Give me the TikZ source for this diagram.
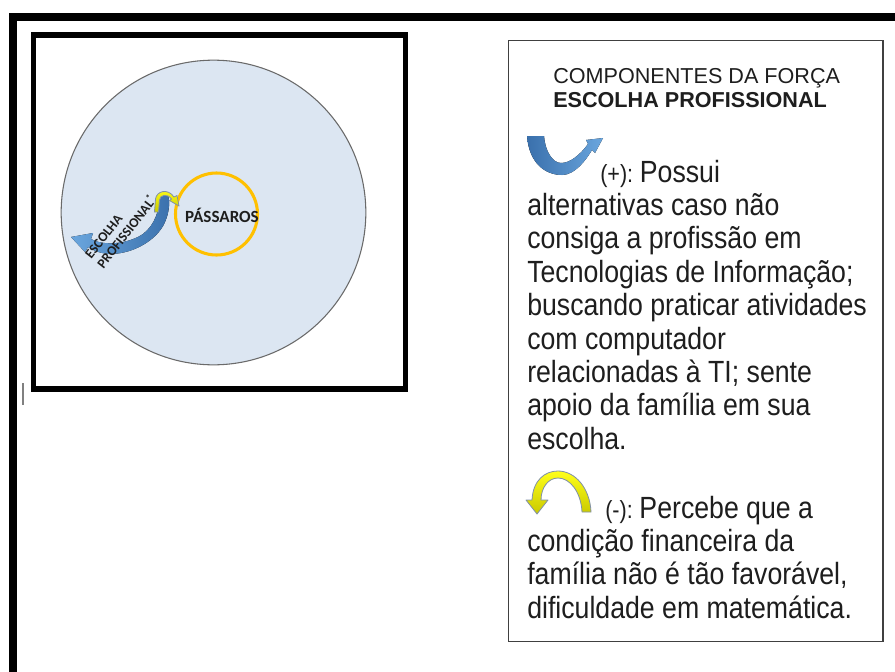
\documentclass[tikz,border=0pt]{standalone}
\usepackage{fontspec}
\setmainfont{Liberation Sans}
\newfontfamily\bodyfont[FakeStretch=0.87]{Liberation Sans}
\newfontfamily\calib{Carlito}
\definecolor{boxgray}{HTML}{404040}
\definecolor{worldfill}{HTML}{DCE6F2}
\definecolor{worlddraw}{HTML}{6A6A6A}
\definecolor{ambar}{HTML}{FFC000}
\definecolor{blueA}{HTML}{3A70AC}
\definecolor{blueB}{HTML}{6AA6DE}
\definecolor{yelA}{HTML}{FFFF1A}
\definecolor{yelB}{HTML}{C9C900}
\definecolor{yelline}{HTML}{8090A8}
\definecolor{txt}{HTML}{1E1E1E}
\tikzset{
  bodytext/.style={anchor=base west, inner sep=0pt, text=txt, font=\bodyfont\fontsize{23}{25}\selectfont},
  headtext/.style={anchor=base west, inner sep=0pt, text=txt, font=\fontsize{16.2}{18}\selectfont},
  rottext/.style={rotate=52, inner sep=0pt, text=txt, align=left, font=\calib\bfseries\fontsize{10.2}{11.6}\selectfont},
  swoosh/.style={left color=blueB, right color=blueA, draw=none},
  ushape/.style={left color=blueA, right color=blueB, draw=none},
  yelarrow/.style={top color=yelA, bottom color=yelB, draw=yelline, line width=0.6pt, line join=round}
}
\newcommand{\smallpar}{\fontsize{18.6}{20}\selectfont}
\begin{document}
\begin{tikzpicture}[x=0.75pt,y=-0.75pt]
\useasboundingbox (0,0) rectangle (895,671);
\fill[white] (0,0) rectangle (895,671);
% outer page frame
\draw[line width=6.3pt, line join=miter] (12.8,690) -- (12.8,16.8) -- (905,16.8);
% text cursor
\draw[gray, line width=1.1pt] (23,383) -- (23,405);
% left picture box
\draw[line width=4.1pt] (33.5,35) rectangle (405.5,389);
\node (world) [circle, fill=worldfill, draw=worlddraw, line width=0.8pt, minimum size=228.5pt, inner sep=0pt] at (213.5,212.5) {};
\node (birds) [circle, draw=ambar, line width=2.3pt, minimum size=61.5pt, inner sep=0pt] at (216.5,214) {};
\node (birdslabel) [inner sep=0pt, text=txt, font=\calib\bfseries\fontsize{12.8}{14}\selectfont] at (222,215) {PÁSSAROS};
% blue swoosh arrow
\fill[swoosh] (166,192) .. controls (171,197) and (170,214) .. (163,226)
  .. controls (155,240) and (135,253) .. (112,254)
  .. controls (102,254) and (94,251) .. (88,247)
  -- (85,252) -- (71,237) -- (93,233) -- (91,239)
  .. controls (105,247) and (130,243) .. (143,234)
  .. controls (155,225) and (159,210) .. (160,198)
  .. controls (160.5,195) and (162,192.5) .. (166,192) -- cycle;
% small yellow arrow
\draw[yelarrow] (154.5,212) -- (155.5,199) .. controls (156.5,191) and (168,188) .. (174,197)
  -- (177,195.5) -- (179,206) -- (169.5,200.5) -- (171.5,199)
  .. controls (167,193) and (160,195) .. (159.5,200) -- (158.5,212) -- cycle;
\node (esc) [rottext] at (121,227) {ESCOLHA\\PROFISSIONAL\textsuperscript{*}};
% legend box
\draw[boxgray, line width=1.1pt] (508.5,40.5) rectangle (883,641.5);
\node (h1) [headtext] at (553,83.5) {COMPONENTES DA FORÇA};
\node (h2) [headtext, font=\bfseries\fontsize{16.2}{18}\selectfont] at (553,107) {ESCOLHA PROFISSIONAL};
% blue U icon
\fill[ushape] (527,136) .. controls (529,163) and (545,175) .. (562,175)
  .. controls (575,175) and (586,160) .. (592,150)
  -- (595,153) -- (603,138) -- (586,140) -- (588,144)
  .. controls (580,155) and (570,163) .. (561,163)
  .. controls (552,163) and (545,150) .. (544,136) -- cycle;
\node (p0) [bodytext] at (600,182) {{\smallpar(+):}\hspace{5pt}Possui};
\node (p1) [bodytext] at (527,215.4) {alternativas caso não};
\node (p2) [bodytext] at (527,248.8) {consiga a profissão em};
\node (p3) [bodytext] at (527,282.2) {Tecnologias de Informação;};
\node (p4) [bodytext] at (527,315.6) {buscando praticar atividades};
\node (p5) [bodytext] at (527,349) {com computador};
\node (p6) [bodytext] at (527,382.4) {relacionadas à TI; sente};
\node (p7) [bodytext] at (527,415.8) {apoio da família em sua};
\node (p8) [bodytext] at (527,449.2) {escolha.};
% yellow cap icon
\draw[yelarrow] (541,500) .. controls (541,488) and (548,478) .. (558,478)
  .. controls (570,478) and (581,492) .. (582,512) -- (591,512)
  .. controls (590,488) and (575,471) .. (558,471)
  .. controls (545,471) and (533,480) .. (532,500)
  -- (526,500) -- (537,514) -- (548,500) -- cycle;
\node (n0) [bodytext] at (605,518) {{\smallpar(-):}\hspace{5pt}Percebe que a};
\node (n1) [bodytext] at (527,551.4) {condição financeira da};
\node (n2) [bodytext] at (527,584.8) {família não é tão favorável,};
\node (n3) [bodytext] at (527,618.2) {dificuldade em matemática.};
\end{tikzpicture}
\end{document}
